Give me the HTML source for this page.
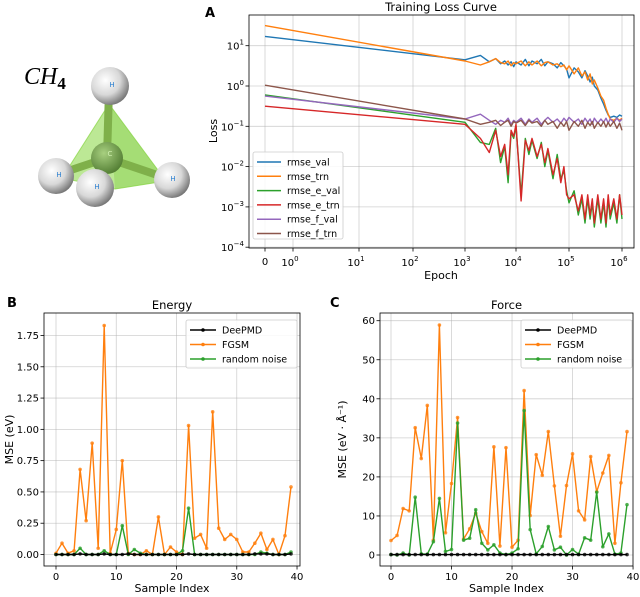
<!DOCTYPE html>
<html><head><meta charset="utf-8">
<style>
html,body{margin:0;padding:0;background:#fff;}
svg{display:block;font-family:"DejaVu Sans","Liberation Sans",sans-serif;}
</style></head>
<body>
<svg id="fig" width="640" height="597" viewBox="0 0 640 597" xmlns="http://www.w3.org/2000/svg">
<defs>
<radialGradient id="hg" cx="0.38" cy="0.35" r="0.7">
<stop offset="0" stop-color="#ffffff"/><stop offset="0.55" stop-color="#d8d8d8"/><stop offset="1" stop-color="#6e6e6e"/>
</radialGradient>
<radialGradient id="cg" cx="0.4" cy="0.35" r="0.7">
<stop offset="0" stop-color="#a8d080"/><stop offset="1" stop-color="#4f7a30"/>
</radialGradient>
</defs>
<!-- molecule -->
<g>
<text x="24" y="84" font-family="'Liberation Serif',serif" font-style="italic" font-size="24">CH<tspan font-size="17" font-weight="bold" font-style="normal" dy="5">4</tspan></text>
<polygon points="109,104 62,178 115,189 166,181" fill="#8fd84f" fill-opacity="0.6" stroke="#8fd84f" stroke-opacity="0.8"/>
<polygon points="109,104 115,189 166,181" fill="#7cc83a" fill-opacity="0.35"/>
<line x1="107" y1="158" x2="109" y2="90" stroke="#7fb04a" stroke-width="8"/>
<line x1="107" y1="158" x2="56" y2="175" stroke="#7fb04a" stroke-width="8"/>
<line x1="107" y1="158" x2="172" y2="180" stroke="#7fb04a" stroke-width="8"/>
<line x1="107" y1="158" x2="95" y2="186" stroke="#7fb04a" stroke-width="8"/>
<circle cx="107" cy="158" r="16" fill="url(#cg)"/>
<circle cx="110" cy="86" r="19" fill="url(#hg)"/>
<circle cx="56" cy="176" r="18" fill="url(#hg)"/>
<circle cx="172" cy="180" r="18" fill="url(#hg)"/>
<circle cx="95" cy="188" r="19" fill="url(#hg)"/>
<g font-size="7" fill="#2a7fd0" text-anchor="middle">
<text x="112" y="87">H</text><text x="59" y="177">H</text><text x="173" y="181">H</text><text x="97" y="189">H</text><text x="110" y="156" fill="#d0f0b0">C</text>
</g>
</g>
<g id="gA"></g>
<g id="gB"></g>
<g id="gC"></g>
</svg>
<script>
// ---- Panel A data ----
const epochs = [0,1000,2000,3000,4000,5000,6000,7000,8000,9000,10000,12500,15000,17500,20000,25000,30000,35000,40000,50000,60000,70000,80000,90000,100000,125000,150000,175000,200000,225000,250000,275000,300000,350000,400000,450000,500000,550000,600000,700000,800000,900000,1000000];
const logRmseVal = [1.23,0.65,0.76,0.6,0.68,0.55,0.62,0.52,0.6,0.48,0.6,0.52,0.66,0.5,0.62,0.55,0.66,0.5,0.6,0.55,0.45,0.58,0.5,0.42,0.2,0.45,0.35,0.2,0.38,0.25,0.1,0.22,0.0,-0.1,-0.3,-0.45,-0.6,-0.72,-0.78,-0.75,-0.78,-0.72,-0.75];
const logRmseTrn = [1.5,0.62,0.52,0.6,0.68,0.58,0.55,0.62,0.5,0.58,0.55,0.62,0.5,0.6,0.52,0.62,0.5,0.58,0.6,0.52,0.55,0.48,0.52,0.4,0.5,0.3,0.45,0.25,0.35,0.15,0.3,0.05,0.15,-0.05,-0.25,-0.35,-0.55,-0.7,-0.82,-0.85,-0.8,-0.85,-0.8];
const logRmseEVal = [-0.22,-0.9,-1.4,-1.45,-1.05,-1.9,-1.5,-2.4,-1.15,-1.3,-1.0,-2.7,-1.3,-1.7,-1.35,-1.8,-1.4,-2.0,-1.6,-2.3,-1.7,-2.3,-2.1,-2.6,-2.9,-2.6,-3.2,-2.8,-3.4,-2.8,-3.3,-2.9,-3.5,-2.8,-3.4,-2.9,-3.5,-2.8,-3.3,-2.9,-3.4,-2.7,-3.3];
const logRmseETrn = [-0.5,-0.95,-1.3,-1.65,-1.1,-1.75,-1.45,-2.2,-1.1,-1.25,-0.95,-2.85,-1.35,-1.6,-1.3,-1.75,-1.45,-1.9,-1.55,-2.2,-1.8,-2.4,-2.0,-2.7,-2.8,-2.7,-3.1,-2.7,-3.3,-2.7,-3.2,-2.8,-3.4,-2.7,-3.3,-2.8,-3.4,-2.7,-3.2,-2.8,-3.3,-2.7,-3.2];
const logRmseFVal = [-0.25,-0.82,-0.7,-0.85,-0.95,-0.85,-0.9,-0.8,-0.95,-0.85,-0.9,-0.8,-0.95,-0.82,-0.9,-0.8,-0.95,-0.85,-0.78,-0.9,-0.82,-0.92,-0.8,-0.88,-0.78,-0.9,-0.82,-0.95,-0.8,-0.9,-0.82,-0.95,-0.8,-0.92,-0.82,-0.9,-0.8,-0.92,-0.82,-0.9,-0.8,-0.88,-0.82];
const logRmseFTrn = [0.02,-0.82,-0.95,-0.9,-0.85,-0.98,-0.9,-0.85,-1.0,-0.88,-0.92,-0.85,-0.98,-0.85,-0.92,-0.88,-1.0,-0.85,-0.95,-0.88,-1.05,-0.9,-1.0,-0.88,-1.1,-0.88,-1.0,-0.85,-1.05,-0.9,-0.98,-0.88,-1.05,-0.9,-1.0,-0.88,-1.02,-0.9,-1.0,-0.88,-1.05,-0.92,-1.1];
const lossNames = ["rmse_val","rmse_trn","rmse_e_val","rmse_e_trn","rmse_f_val","rmse_f_trn"];
const lossExps = [-4,-3,-2,-1,0,1];
const epochTickExps = [0,1,2,3,4,5,6];
// ---- Panels B/C data ----
const sampleIdx = Array.from({length:40},(_,i)=>i);
const energyDeePMD = [0,0,0,0,0.005,0,0,0,0.005,0,0,0,0.005,0,0,0,0,0,0,0,0,0,0.005,0,0,0,0,0,0,0,0,0,0,0.005,0.005,0.005,0,0,0,0.005];
const energyFGSM = [0.01,0.09,0.01,0.03,0.68,0.27,0.89,0.05,1.83,0.01,0.2,0.75,0.01,0.0,0.0,0.03,0.0,0.30,0.0,0.06,0.02,0.0,1.03,0.13,0.16,0.05,1.14,0.21,0.12,0.16,0.12,0.02,0.02,0.09,0.17,0.04,0.12,0.0,0.15,0.54];
const energyNoise = [0,0,0,0,0.05,0,0,0,0.03,0,0,0.23,0,0.04,0.01,0,0,0,0,0,0,0.03,0.37,0,0,0,0,0,0,0,0,0,0,0,0.02,0.01,0,0,0,0.02];
const forceDeePMD = Array.from({length:40},()=>0.1);
const forceFGSM = [3.7,5.0,11.9,11.3,32.6,24.7,38.3,3.8,58.9,5.7,18.3,35.2,4.1,6.7,10.7,6.0,3.0,27.7,2.3,27.5,2.0,3.8,42.1,10.1,25.7,20.4,31.6,17.7,4.8,17.8,25.9,11.3,9.0,25.2,16.2,21.0,25.5,3.0,18.5,31.6];
const forceNoise = [0.1,0,0.5,0,14.8,0.3,0.2,3.4,14.5,0.9,1.4,33.8,3.8,4.3,11.6,3.0,1.3,2.6,0.5,0.1,0.5,1.6,37.0,6.5,0.3,2.2,7.3,1.3,2.0,0,1.4,0.2,4.4,3.8,16.1,2.1,5.4,0.2,0.5,12.9];
const energyTicks = [0,0.25,0.5,0.75,1.0,1.25,1.5,1.75];
const forceTicks = [0,10,20,30,40,50,60];
const sampleTicks = [0,10,20,30,40];

const NS="http://www.w3.org/2000/svg";
function mk(parent,tag,attrs,text){const e=document.createElementNS(NS,tag);for(const k in attrs)e.setAttribute(k,attrs[k]);if(text!==undefined)e.textContent=text;parent.appendChild(e);return e;}

// ---------- Panel A ----------
const gA=document.getElementById('gA');
const A={l:249,r:634,t:15,b:248};
const xTickPos=[[0,265],[1,293],[10,359],[100,413],[1e3,465],[1e4,516],[1e5,569],[1e6,622]];
function xA(e){
  if(e<=1) return 265+28*e;
  const l=Math.log10(e);
  for(let i=1;i<xTickPos.length-1;i++){
    const a=Math.log10(xTickPos[i][0]), b=Math.log10(xTickPos[i+1][0]);
    if(l<=b) return xTickPos[i][1]+(l-a)/(b-a)*(xTickPos[i+1][1]-xTickPos[i][1]);
  }
  return 622+(l-6)*53;
}
function yA(lv){return 86-40.3*lv;}
let fr=mk(gA,'rect',{x:A.l,y:A.t,width:A.r-A.l,height:A.b-A.t,fill:'#fff',stroke:'none'});

const gridXA=[0].concat(epochTickExps.map(p=>Math.pow(10,p)));
gridXA.forEach(v=>{const x=xA(v);mk(gA,'line',{x1:x,x2:x,y1:A.t,y2:A.b,stroke:'#b0b0b0','stroke-width':0.8,'stroke-opacity':0.6});
  mk(gA,'line',{x1:x,x2:x,y1:A.b,y2:A.b+3.5,stroke:'#000','stroke-width':0.8});});
lossExps.forEach(p=>{const y=yA(p);mk(gA,'line',{x1:A.l,x2:A.r,y1:y,y2:y,stroke:'#b0b0b0','stroke-width':0.8,'stroke-opacity':0.6});
  mk(gA,'line',{x1:A.l-3.5,x2:A.l,y1:y,y2:y,stroke:'#000','stroke-width':0.8});
  const t=mk(gA,'text',{x:A.l-5,y:y+4,'font-size':10,'text-anchor':'end'},'10');
  
  mk(t,'tspan',{dy:-5,'font-size':7},p<0?'\u2212'+(-p):String(p));
});
{const t=mk(gA,'text',{x:265,y:265,'font-size':10,'text-anchor':'middle'},'0');}
epochTickExps.forEach(p=>{const x=xA(Math.pow(10,p));const t=mk(gA,'text',{x:x-3,y:266,'font-size':10,'text-anchor':'middle'},'10');
  
  mk(t,'tspan',{dy:-5,'font-size':7},String(p));});
const colorsA=['#1f77b4','#ff7f0e','#2ca02c','#d62728','#9467bd','#8c564b'];
const seriesA=[logRmseVal,logRmseTrn,logRmseEVal,logRmseETrn,logRmseFVal,logRmseFTrn];
const drawOrder=[0,1,2,3,4,5];
drawOrder.forEach(si=>{
  const d=seriesA[si].map((v,i)=>(i?'L':'M')+xA(epochs[i]).toFixed(1)+','+yA(v).toFixed(1)).join('');
  const p=mk(gA,'path',{d:d,fill:'none',stroke:colorsA[si],'stroke-width':1.4,'stroke-linejoin':'round'});
  
  
});
mk(gA,'rect',{x:A.l,y:A.t,width:A.r-A.l,height:A.b-A.t,fill:'none',stroke:'#000','stroke-width':0.8});
// legend A
const legA=mk(gA,'g',{});

mk(legA,'rect',{x:253,y:152,width:90,height:87,rx:2,fill:'#fff','fill-opacity':0.85,stroke:'#ccc','stroke-width':0.8});
lossNames.forEach((n,i)=>{const y=162+i*14.3;
  mk(legA,'line',{x1:257,x2:281,y1:y,y2:y,stroke:colorsA[i],'stroke-width':1.5});
  const t=mk(legA,'text',{x:287,y:y+3.5,'font-size':9.5},n);
  });
{let t=mk(gA,'text',{x:441,y:11,'font-size':11.5,'text-anchor':'middle'},'Training Loss Curve');
 t=mk(gA,'text',{x:441,y:279,'font-size':11,'text-anchor':'middle'},'Epoch');
 t=mk(gA,'text',{x:0,y:0,'font-size':11,'text-anchor':'middle',transform:'translate(217,131) rotate(-90)'},'Loss');
 t=mk(gA,'text',{x:205,y:17,'font-size':13,'font-weight':'bold'},'A');}

// ---------- Panels B / C ----------
function panel(g,box,yMax,yTicks,fmt,series,title,ylab,letter,lx,legX){
  const xs=i=>box.x0+(box.x39-box.x0)*i/39;
  const ys=v=>box.y0-(box.y0-box.yTop)*v/yMax;
  mk(g,'rect',{x:box.l,y:box.t,width:box.r-box.l,height:box.b-box.t,fill:'#fff'});
  sampleTicks.forEach(v=>{const x=xs(v);
    if(x<box.r-1) mk(g,'line',{x1:x,x2:x,y1:box.t,y2:box.b,stroke:'#b0b0b0','stroke-width':0.8,'stroke-opacity':0.6});
    mk(g,'line',{x1:x,x2:x,y1:box.b,y2:box.b+3.5,stroke:'#000','stroke-width':0.8});
    const t=mk(g,'text',{x:x,y:box.b+14,'font-size':10,'text-anchor':'middle'},String(v));
    });
  yTicks.forEach(v=>{const y=ys(v);
    mk(g,'line',{x1:box.l,x2:box.r,y1:y,y2:y,stroke:'#b0b0b0','stroke-width':0.8,'stroke-opacity':0.6});
    mk(g,'line',{x1:box.l-3.5,x2:box.l,y1:y,y2:y,stroke:'#000','stroke-width':0.8});
    const t=mk(g,'text',{x:box.l-5,y:y+3.5,'font-size':10,'text-anchor':'end'},fmt(v));
    });
  const cols=['#000000','#ff7f0e','#2ca02c'];const names=['DeePMD','FGSM','random noise'];
  [1,2,0].forEach(si=>{
    const vals=series[si];
    const d=vals.map((v,i)=>(i?'L':'M')+xs(sampleIdx[i]).toFixed(1)+','+ys(v).toFixed(1)).join('');
    const p=mk(g,'path',{d:d,fill:'none',stroke:cols[si],'stroke-width':1.4,'stroke-linejoin':'round'});
    
    
    vals.forEach((v,i)=>{const c=mk(g,'circle',{cx:xs(sampleIdx[i]),cy:ys(v),r:1.8,fill:cols[si],'fill-opacity':0.8});
      
      });
  });
  mk(g,'rect',{x:box.l,y:box.t,width:box.r-box.l,height:box.b-box.t,fill:'none',stroke:'#000','stroke-width':0.8});
  const lg=mk(g,'g',{});
  
  mk(lg,'rect',{x:legX,y:320,width:111,height:48,rx:2,fill:'#fff','fill-opacity':0.85,stroke:'#ccc','stroke-width':0.8});
  names.forEach((n,i)=>{const y=330+i*14.5;
    mk(lg,'line',{x1:legX+4,x2:legX+30,y1:y,y2:y,stroke:cols[i],'stroke-width':1.5});
    mk(lg,'circle',{cx:legX+17,cy:y,r:1.8,fill:cols[i]});
    const t=mk(lg,'text',{x:legX+36,y:y+3.5,'font-size':9.5},n);
    });
  let t=mk(g,'text',{x:(box.l+box.r)/2,y:309,'font-size':11.5,'text-anchor':'middle'},title);
  t=mk(g,'text',{x:(box.l+box.r)/2,y:592,'font-size':11,'text-anchor':'middle'},'Sample Index');
  t=mk(g,'text',{x:0,y:0,'font-size':11,'text-anchor':'middle',transform:'translate('+lx+','+((box.t+box.b)/2)+') rotate(-90)'},ylab);
  t=mk(g,'text',{x:letter[0],y:letter[1],'font-size':13,'font-weight':'bold'},letter[2]);
}
panel(document.getElementById('gB'),{l:44,r:300,t:313,b:566,x0:56,x39:291,y0:554.5,yTop:335.5},1.75,energyTicks,v=>v.toFixed(2),
  [energyDeePMD,energyFGSM,energyNoise],'Energy','MSE (eV)',[7,307,'B'],13,186);
panel(document.getElementById('gC'),{l:380,r:633,t:313,b:566,x0:391,x39:627,y0:555,yTop:320.7},60,forceTicks,v=>String(v),
  [forceDeePMD,forceFGSM,forceNoise],'Force','MSE (eV \u00b7 \u00c5\u207b\u00b9)',[330,307,'C'],346,521);
</script>
</body></html>
